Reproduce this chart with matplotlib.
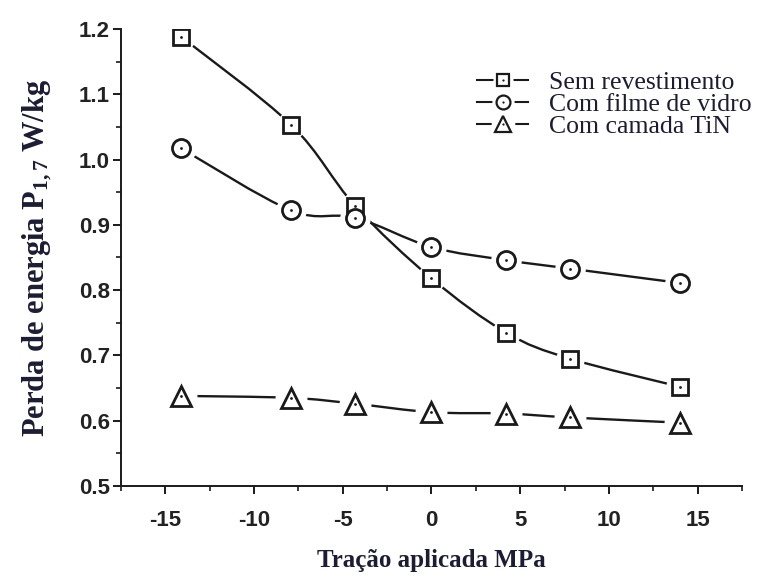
import numpy as np
import matplotlib
matplotlib.use("Agg")
import matplotlib.pyplot as plt
from matplotlib.path import Path
from matplotlib.patches import PathPatch
from matplotlib.lines import Line2D
from matplotlib.legend_handler import HandlerTuple

# tração aplicada (MPa) e perdas P1,7 (W/kg)
tracao = [-14.1, -7.9, -4.3, 0.0, 4.2, 7.8, 14.0]
sem_revestimento = [1.188, 1.053, 0.929, 0.818, 0.735, 0.695, 0.652]
filme_vidro = [1.017, 0.922, 0.911, 0.866, 0.846, 0.833, 0.811]
camada_tin = [0.638, 0.635, 0.626, 0.613, 0.611, 0.605, 0.597]

rotulos = ["Sem revestimento", "Com filme de vidro", "Com camada TiN"]
marcadores = ["s", "o", "^"]
tamanhos = [11.5, 13, 14]

cor_texto = "#1c1c34"
cor_linha = "#1a1a1a"

plt.rcParams["axes.unicode_minus"] = False
plt.rcParams["mathtext.fontset"] = "custom"
plt.rcParams["mathtext.rm"] = "Liberation Serif:bold"
plt.rcParams["mathtext.it"] = "Liberation Serif:bold"

fig = plt.figure(figsize=(7.65, 5.81), dpi=100)
ax = fig.add_axes([0.158, 0.1635, 0.812, 0.7866])


def curva_suave(x, y):
    # Catmull-Rom convertido em segmentos de Bezier cubicos
    pts = np.column_stack([x, y])
    ext = np.vstack([pts[0], pts, pts[-1]])
    verts = [tuple(pts[0])]
    codes = [Path.MOVETO]
    for i in range(len(pts) - 1):
        p0, p1, p2, p3 = ext[i], ext[i + 1], ext[i + 2], ext[i + 3]
        c1 = p1 + (p2 - p0) / 6.0
        c2 = p2 - (p3 - p1) / 6.0
        verts += [tuple(c1), tuple(c2), tuple(p2)]
        codes += [Path.CURVE4] * 3
    return Path(verts, codes)


series = [sem_revestimento, filme_vidro, camada_tin]
for ys in series:
    ax.add_patch(PathPatch(curva_suave(tracao, ys), facecolor="none",
                           edgecolor=cor_linha, lw=1.7, zorder=2))
for ys, mk, ms in zip(series, marcadores, tamanhos):
    # halo branco para separar a linha do simbolo
    ax.plot(tracao, ys, ls="none", marker="o", ms=ms + 8, mfc="white",
            mec="white", zorder=3)
for ys, mk, ms in zip(series, marcadores, tamanhos):
    ax.plot(tracao, ys, ls="none", marker=mk, ms=ms, mfc="white",
            mec=cor_linha, mew=2.0, zorder=4)
    ax.plot(tracao, ys, ls="none", marker="o", ms=2.0, mfc=cor_linha,
            mec="none", zorder=5)

handles = []
for mk, ms in zip(marcadores, tamanhos):
    linha = Line2D([], [], color=cor_linha, lw=1.5)
    halo = Line2D([], [], ls="none", marker="o", ms=ms + 2, mfc="white", mec="white")
    simb = Line2D([], [], ls="none", marker=mk, ms=ms - 3, mfc="white",
                  mec=cor_linha, mew=1.6)
    ponto = Line2D([], [], ls="none", marker="o", ms=1.6, mfc=cor_linha, mec="none")
    handles.append((linha, halo, simb, ponto))

leg = ax.legend(handles, rotulos, handler_map={tuple: HandlerTuple(ndivide=1)},
                loc="upper left", bbox_to_anchor=(0.573, 0.907), frameon=False,
                borderpad=0, borderaxespad=0, handlelength=2.0,
                handletextpad=0.8, labelspacing=-0.05,
                prop={"family": "Liberation Serif", "size": 18.5})
for t in leg.get_texts():
    t.set_color(cor_texto)

ax.set_xlim(-17.5, 17.5)
ax.set_ylim(0.5, 1.2)
ax.set_xticks([-15, -10, -5, 0, 5, 10, 15])
ax.set_xticks(np.arange(-17.5, 17.6, 2.5), minor=True)
yt = np.round(np.arange(0.5, 1.21, 0.1), 2)
ax.set_yticks(yt)
ax.set_yticks(np.arange(0.5, 1.21, 0.05), minor=True)
ax.set_yticklabels([f"{v:.1f}" for v in yt])

ax.spines["top"].set_visible(False)
ax.spines["right"].set_visible(False)
for s in ("left", "bottom"):
    ax.spines[s].set_linewidth(1.4)
    ax.spines[s].set_color(cor_linha)

ax.tick_params(which="major", direction="out", length=6, width=1.4, color=cor_linha)
ax.tick_params(which="minor", direction="out", length=3.5, width=1.2, color=cor_linha)
ax.tick_params(axis="y", pad=2)
ax.tick_params(axis="x", pad=11)
for lab in ax.get_xticklabels() + ax.get_yticklabels():
    lab.set_family("Liberation Sans")
    lab.set_fontweight("bold")
    lab.set_fontsize(16)
    lab.set_color("#222222")

ax.set_xlabel("Tração aplicada MPa", family="Liberation Serif", fontweight="bold",
              fontsize=18, color=cor_texto, labelpad=13)
ax.set_ylabel(r"Perda de energia P$_{1,7}$ W/kg", family="Liberation Serif",
              fontweight="bold", fontsize=22, color=cor_texto, labelpad=18)

fig.savefig("out.png", dpi=100)
